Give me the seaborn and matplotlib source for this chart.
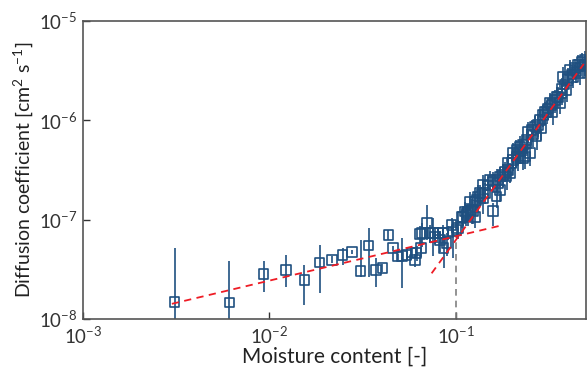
import matplotlib
matplotlib.use("Agg")

import numpy as np
import pandas as pd
import matplotlib.pyplot as plt
import seaborn as sns

# measured points: moisture content, diffusion coefficient, lower / upper error
moisture = [
    0.0031, 0.0061, 0.0093, 0.0123, 0.0154, 0.0186, 0.0216, 0.0247, 0.0277, 0.0308,
    0.0340, 0.0372, 0.0404, 0.0435, 0.0461, 0.0490, 0.0515, 0.0544, 0.0578, 0.0603,
    0.0615, 0.0641, 0.0650, 0.0660, 0.0700, 0.0726, 0.0755, 0.0771, 0.0804, 0.0820,
    0.0855, 0.0860, 0.0891, 0.0910, 0.0948, 0.0968, 0.1009, 0.1028, 0.1074, 0.1094,
    0.1117, 0.1140, 0.1164, 0.1189, 0.1214, 0.1239, 0.1265, 0.1265, 0.1291, 0.1318,
    0.1346, 0.1400, 0.1400, 0.1429, 0.1489, 0.1521, 0.1585, 0.1585, 0.1652, 0.1652,
    0.1687, 0.1722, 0.1722, 0.1795, 0.1832, 0.1870, 0.1905, 0.1905, 0.1950, 0.1991,
    0.2028, 0.2028, 0.2113, 0.2113, 0.2148, 0.2203, 0.2203, 0.2296, 0.2296, 0.2344,
    0.2393, 0.2393, 0.2443, 0.2495, 0.2547, 0.2600, 0.2655, 0.2710, 0.2761, 0.2818,
    0.2870, 0.2938, 0.2999, 0.3062, 0.3126, 0.3192, 0.3258, 0.3300, 0.3396, 0.3467,
    0.3540, 0.3620, 0.3690, 0.3690, 0.3758, 0.3830, 0.3926, 0.3999, 0.4083, 0.4170,
    0.4256, 0.4345, 0.4430, 0.4529, 0.4624, 0.4721, 0.4820, 0.4920, 0.4920,
]
diffusion = [
    1.49e-8, 1.47e-8, 2.84e-8, 3.11e-8, 2.47e-8, 3.69e-8, 3.93e-8, 4.41e-8, 4.73e-8, 3.06e-8,
    5.47e-8, 3.11e-8, 3.26e-8, 7.00e-8, 5.15e-8, 4.24e-8, 4.30e-8, 4.40e-8, 4.65e-8, 3.95e-8,
    4.60e-8, 7.20e-8, 5.20e-8, 7.30e-8, 9.20e-8, 7.30e-8, 7.30e-8, 6.65e-8, 7.30e-8, 6.25e-8,
    7.30e-8, 5.15e-8, 5.80e-8, 7.40e-8, 8.85e-8, 7.60e-8, 7.90e-8, 8.20e-8, 1.07e-7, 1.07e-7,
    1.21e-7, 1.11e-7, 1.16e-7, 1.52e-7, 1.25e-7, 1.21e-7, 1.07e-7, 1.52e-7, 1.58e-7, 1.71e-7,
    1.85e-7, 1.64e-7, 2.23e-7, 1.85e-7, 2.20e-7, 2.51e-7, 1.22e-7, 2.42e-7, 1.71e-7, 2.51e-7,
    2.33e-7, 2.71e-7, 1.99e-7, 2.82e-7, 3.02e-7, 2.71e-7, 3.16e-7, 3.70e-7, 2.93e-7, 3.70e-7,
    3.99e-7, 4.67e-7, 4.31e-7, 5.04e-7, 4.18e-7, 4.84e-7, 5.43e-7, 5.65e-7, 4.15e-7, 4.31e-7,
    5.87e-7, 6.35e-7, 7.69e-7, 4.67e-7, 8.00e-7, 7.20e-7, 8.65e-7, 6.86e-7, 9.00e-7, 1.01e-6,
    8.30e-7, 1.13e-6, 1.22e-6, 1.22e-6, 1.32e-6, 1.49e-6, 1.43e-6, 1.20e-6, 1.60e-6, 1.73e-6,
    1.73e-6, 1.50e-6, 1.87e-6, 2.10e-6, 2.75e-6, 2.30e-6, 2.02e-6, 2.65e-6, 3.22e-6, 2.90e-6,
    2.75e-6, 3.35e-6, 3.10e-6, 3.61e-6, 2.98e-6, 3.90e-6, 3.50e-6, 4.06e-6, 3.61e-6,
]
err_low = [
    1.45e-8, 1.45e-8, 0.98e-8, 1.0e-8, 1.09e-8, 1.86e-8, 0.3e-8, 0.9e-8, 0.2e-8, 0.4e-8,
    2.8e-8, 1.0e-8, 0.3e-8, 0.8e-8, 0.3e-8, 0.3e-8, 2.25e-8, 0.4e-8, 0.7e-8, 0.6e-8,
    0.8e-8, 1.5e-8, 1.0e-8, 2.0e-8, 3.0e-8, 1.5e-8, 3.0e-8, 1.0e-8, 1.2e-8, 1.5e-8,
    1.5e-8, 1.9e-8, 1.5e-8, 1.2e-8, 1.5e-8, 3.5e-8, 1.5e-8, 1.8e-8, 2.5e-8, 2.0e-8,
    3.0e-8, 2.5e-8, 3.0e-8, 3.0e-8, 3.5e-8, 3.0e-8, 2.5e-8, 4.0e-8, 3.5e-8, 4.0e-8,
    4.0e-8, 5.0e-8, 5.0e-8, 4.0e-8, 6.0e-8, 5.0e-8, 3.5e-8, 5.0e-8, 4.0e-8, 6.0e-8,
    5.0e-8, 6.0e-8, 5.0e-8, 7.0e-8, 6.0e-8, 7.0e-8, 7.0e-8, 8.0e-8, 6.0e-8, 9.0e-8,
    9.0e-8, 1.0e-7, 1.0e-7, 1.2e-7, 1.1e-7, 1.2e-7, 1.3e-7, 1.4e-7, 1.0e-7, 1.1e-7,
    1.5e-7, 1.5e-7, 1.8e-7, 1.2e-7, 2.0e-7, 1.8e-7, 2.0e-7, 1.8e-7, 2.2e-7, 2.5e-7,
    2.0e-7, 2.8e-7, 3.0e-7, 3.0e-7, 3.2e-7, 3.5e-7, 3.5e-7, 3.0e-7, 4.0e-7, 4.2e-7,
    4.0e-7, 3.5e-7, 4.5e-7, 5.0e-7, 6.0e-7, 5.5e-7, 5.0e-7, 6.0e-7, 7.0e-7, 7.0e-7,
    6.5e-7, 7.5e-7, 7.0e-7, 8.0e-7, 7.0e-7, 8.5e-7, 8.0e-7, 9.0e-7, 8.0e-7,
]
err_high = [
    3.7e-8, 2.4e-8, 0.96e-8, 1.3e-8, 1.03e-8, 1.87e-8, 0.4e-8, 0.8e-8, 0.2e-8, 3.2e-8,
    2.8e-8, 1.0e-8, 0.3e-8, 0.8e-8, 0.3e-8, 0.3e-8, 2.25e-8, 0.4e-8, 0.7e-8, 0.6e-8,
    0.8e-8, 1.5e-8, 1.0e-8, 2.0e-8, 4.9e-8, 1.5e-8, 3.0e-8, 1.0e-8, 1.2e-8, 1.5e-8,
    1.5e-8, 1.6e-8, 1.5e-8, 1.2e-8, 1.5e-8, 2.4e-8, 1.5e-8, 1.8e-8, 2.5e-8, 3.0e-8,
    3.0e-8, 3.5e-8, 3.0e-8, 4.0e-8, 3.5e-8, 3.0e-8, 2.5e-8, 4.0e-8, 4.5e-8, 5.0e-8,
    4.0e-8, 5.0e-8, 6.0e-8, 5.0e-8, 6.0e-8, 6.0e-8, 2.5e-8, 6.0e-8, 4.0e-8, 7.0e-8,
    6.0e-8, 7.0e-8, 5.0e-8, 8.0e-8, 8.0e-8, 7.0e-8, 9.0e-8, 9.0e-8, 8.0e-8, 1.0e-7,
    1.1e-7, 1.2e-7, 1.2e-7, 1.3e-7, 1.1e-7, 1.4e-7, 1.5e-7, 1.6e-7, 1.2e-7, 1.3e-7,
    1.7e-7, 1.8e-7, 2.0e-7, 1.4e-7, 2.2e-7, 2.0e-7, 2.4e-7, 2.0e-7, 2.5e-7, 2.8e-7,
    2.2e-7, 3.0e-7, 3.2e-7, 3.3e-7, 3.5e-7, 3.8e-7, 3.8e-7, 3.2e-7, 4.2e-7, 4.5e-7,
    4.5e-7, 4.0e-7, 5.0e-7, 5.5e-7, 7.0e-7, 6.0e-7, 5.5e-7, 7.0e-7, 8.0e-7, 7.5e-7,
    7.0e-7, 8.0e-7, 8.0e-7, 9.0e-7, 7.5e-7, 9.0e-7, 8.5e-7, 9.5e-7, 8.5e-7,
]

# fitted power laws (end points)
fit_low_x = [0.003, 0.18]
fit_low_y = [1.42e-8, 8.85e-8]
fit_high_x = [0.0741, 0.485]
fit_high_y = [2.88e-8, 3.70e-6]

# transition marker
transition_x = [0.1, 0.1]
transition_y = [1e-8, 6.9e-8]

points = pd.DataFrame({"moisture": moisture, "D": diffusion})

sns.set_theme(style="ticks")
plt.rcParams["font.family"] = ["Lato", "DejaVu Sans"]
plt.rcParams["mathtext.fontset"] = "custom"
plt.rcParams["mathtext.rm"] = "Lato"
plt.rcParams["mathtext.it"] = "Lato:italic"
plt.rcParams["mathtext.bf"] = "Lato:bold"

blue = "#1f5080"
red = "#ee1c25"

fig = plt.figure(figsize=(5.88, 3.70), dpi=100)
ax = fig.add_axes([0.141, 0.138, 0.856, 0.805])

ax.errorbar(points["moisture"], points["D"], yerr=[err_low, err_high],
            fmt="none", ecolor=blue, elinewidth=1.2, capsize=0, zorder=2)
sns.scatterplot(data=points, x="moisture", y="D", marker="s", s=48,
                facecolor="none", edgecolor=blue, linewidth=1.2, ax=ax, zorder=3)

ax.plot(transition_x, transition_y, color="#808080", linewidth=1.2,
        dashes=(4, 3), zorder=1)
sns.lineplot(x=fit_low_x, y=fit_low_y, color=red, linewidth=1.3,
             linestyle=(0, (4, 3)), ax=ax, zorder=4)
sns.lineplot(x=fit_high_x, y=fit_high_y, color=red, linewidth=1.3,
             linestyle=(0, (4, 3)), ax=ax, zorder=4)

ax.set_xscale("log")
ax.set_yscale("log")
ax.set_xlim(1e-3, 0.5)
ax.set_ylim(1e-8, 1e-5)
ax.xaxis.set_major_locator(matplotlib.ticker.LogLocator(base=10, numticks=10))
ax.xaxis.set_minor_locator(matplotlib.ticker.NullLocator())
ax.yaxis.set_minor_locator(matplotlib.ticker.NullLocator())

ax.set_xlabel("Moisture content [-]", fontsize=15, color="#222222", labelpad=0)
ax.set_ylabel("Diffusion coefficient [cm$^2$ s$^{-1}$]", fontsize=14,
              color="#222222", labelpad=3)
ax.tick_params(axis="both", which="major", direction="in", length=5, width=1,
               labelsize=13.5, colors="#333333", top=False, right=False)
ax.tick_params(axis="x", pad=5)
ax.tick_params(axis="y", pad=4)
for side in ["top", "right", "bottom", "left"]:
    ax.spines[side].set_visible(True)
    ax.spines[side].set_color("#555555")
    ax.spines[side].set_linewidth(1.2)

fig.savefig("out.png", dpi=100)
